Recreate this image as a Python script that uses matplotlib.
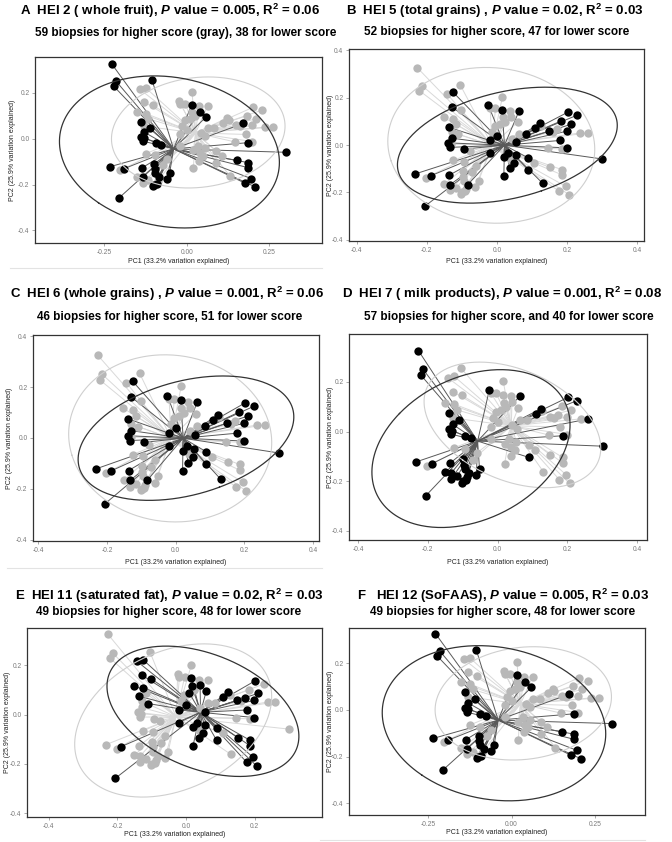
import numpy as np
import matplotlib
matplotlib.use('Agg')
import matplotlib.pyplot as plt
from matplotlib.lines import Line2D
from matplotlib import font_manager

# PCoA coordinates of the biopsies (same ordination in every panel)
pc1 = [-0.227, -0.214, -0.221, -0.105, 0.015, 0.041, 0.059, -0.138, -0.110, -0.129,
       -0.140, -0.133, -0.093, -0.077, -0.233, -0.189, -0.137, -0.133, -0.098, -0.097,
       -0.095, -0.083, -0.052, -0.061, -0.099, -0.091, -0.102, -0.206, 0.172, 0.301,
       0.151, 0.186, 0.186, 0.196, 0.177, 0.206, 0.186, -0.131,
       -0.143, -0.125, -0.129, -0.102, -0.152, -0.124, -0.116, -0.129, -0.124, -0.095,
       -0.202, -0.150, -0.133, -0.116, -0.088, -0.060, -0.072, 0.016, -0.024, -0.019,
       -0.004, 0.037, 0.063, 0.017, 0.024, 0.010, -0.005, -0.014, -0.019, 0.000,
       0.042, 0.063, 0.055, 0.020, 0.033, 0.054, 0.039, 0.050, 0.089, 0.107,
       0.089, 0.131, 0.037, 0.020, 0.084, 0.109, 0.123, 0.127, 0.149, 0.161,
       0.183, 0.202, 0.228, 0.211, 0.199, 0.238, 0.260, 0.179, 0.199, 0.147,
       -0.020]
pc2 = [0.326, 0.251, 0.229, 0.255, 0.148, 0.119, 0.096, 0.075, 0.045, 0.029,
       0.009, -0.010, -0.017, -0.026, -0.122, -0.130, -0.128, -0.167, -0.110, -0.133,
       -0.151, -0.167, -0.151, -0.177, -0.200, -0.196, -0.206, -0.259, 0.067, -0.059,
       -0.094, -0.104, -0.126, -0.174, -0.194, -0.209, -0.017, 0.004,
       0.217, 0.223, 0.161, 0.146, 0.117, 0.110, 0.087, 0.055, -0.065, -0.072,
       -0.138, -0.165, -0.191, -0.181, -0.184, -0.087, -0.114, 0.203, 0.167, 0.154,
       0.154, 0.142, 0.142, 0.117, 0.099, 0.087, 0.080, 0.055, 0.019, 0.038,
       0.026, 0.048, 0.012, -0.051, -0.032, -0.042, -0.064, -0.075, -0.054, -0.075,
       -0.104, -0.162, -0.097, -0.129, 0.048, 0.070, 0.091, 0.081, 0.058, 0.055,
       0.101, 0.138, 0.125, 0.087, 0.058, 0.051, 0.051, 0.019, -0.012, -0.014,
       -0.032]

# 1 = lower score (black), 0 = higher score (gray)
grp_a = "1" * 38 + "0" * 61
grp_b = ("0000100101" "1110111100" "0100000101" "00000000"
         "0110000000" "0000000010" "0010000011" "0011110110"
         "1111111010" "1111100110" "1")
grp_c = grp_b
grp_d = ("1110000111" "1111111111" "1111111101" "00000011"
         "0000000000" "0111100010" "0010000000" "0000000000"
         "1000011000" "0110001000" "0")
grp_e = ("0000111110" "0000010000" "0000000110" "11111100"
         "1111110000" "0000000000" "0001010011" "0011110110"
         "1011011010" "0101100110" "1")
grp_f = grp_a

titles = [
    r"A  HEI 2 ( whole fruit), $P$ value = 0.005, R$^2$ = 0.06",
    r"B  HEI 5 (total grains) , $P$ value = 0.02, R$^2$ = 0.03",
    r"C  HEI 6 (whole grains) , $P$ value = 0.001, R$^2$ = 0.06",
    r"D  HEI 7 ( milk products), $P$ value = 0.001, R$^2$ = 0.08",
    r"E  HEI 11 (saturated fat), $P$ value = 0.02, R$^2$ = 0.03",
    r"F   HEI 12 (SoFAAS), $P$ value = 0.005, R$^2$ = 0.03",
]
subtitles = [
    "59 biopsies for higher score (gray), 38 for lower score",
    "52 biopsies for higher score, 47 for lower score",
    "46 biopsies for higher score, 51 for lower score",
    "57 biopsies for higher score, and 40 for lower score",
    "49 biopsies for higher score, 48 for lower score",
    "49 biopsies for higher score, 48 for lower score",
]
groups = [grp_a, grp_b, grp_c, grp_d, grp_e, grp_f]

x_quarter = [-0.25, 0.0, 0.25]
x_fifth = [-0.4, -0.2, 0.0, 0.2, 0.4]
y_four = [-0.4, -0.2, 0.0, 0.2]
y_five = [-0.4, -0.2, 0.0, 0.2, 0.4]

plt.rcParams['mathtext.fontset'] = 'custom'
plt.rcParams['mathtext.rm'] = 'Liberation Sans:bold'
plt.rcParams['mathtext.it'] = 'Liberation Sans:italic:bold'
plt.rcParams['mathtext.bf'] = 'Liberation Sans:bold'

# axis text in the reference is a narrow sans; use one if present
installed = {f.name for f in font_manager.fontManager.ttflist}
if 'Liberation Sans Narrow' in installed:
    narrow, lab_fs, tick_fs = 'Liberation Sans Narrow', 6.0, 5.5
else:
    narrow, lab_fs, tick_fs = 'Liberation Sans', 5.0, 4.8

W, H = 672, 842
fig = plt.figure(figsize=(W / 100, H / 100), dpi=100)

# panel layout in pixels: axes box (x0, y0, x1, y1), title centre, limits, ticks
panels = [
    dict(box=(35, 57, 322, 243), tc=(170, 11), sc=(186, 33),
         xlim=(-0.46, 0.41), ylim=(-0.455, 0.357), xt=x_quarter, yt=y_four, xf='%.2f',
         yl=13, xl=262),
    dict(box=(349, 49, 644, 241), tc=(495, 11), sc=(497, 32),
         xlim=(-0.422, 0.42), ylim=(-0.405, 0.405), xt=x_fifth, yt=y_five, xf='%.1f',
         yl=330, xl=262),
    dict(box=(33, 335, 319, 541), tc=(167, 294), sc=(170, 317),
         xlim=(-0.415, 0.417), ylim=(-0.405, 0.405), xt=x_fifth, yt=y_five, xf='%.1f',
         yl=10, xl=562),
    dict(box=(349, 334, 647, 540), tc=(502, 294), sc=(509, 317),
         xlim=(-0.426, 0.428), ylim=(-0.437, 0.393), xt=x_fifth, yt=y_four, xf='%.1f',
         yl=330, xl=562),
    dict(box=(27, 628, 322, 817), tc=(169, 596), sc=(169, 612),
         xlim=(-0.463, 0.396), ylim=(-0.416, 0.352), xt=x_fifth[:4], yt=y_four, xf='%.1f',
         yl=8, xl=834),
    dict(box=(349, 628, 645, 815), tc=(503, 596), sc=(503, 612),
         xlim=(-0.485, 0.398), ylim=(-0.45, 0.35), xt=x_quarter, yt=y_four, xf='%.2f',
         yl=330, xl=833),
]

x = np.array(pc1)
y = np.array(pc2)
t = np.linspace(0, 2 * np.pi, 300)


def cov_trob(pts, nu=5, maxit=25, tol=0.01):
    # robust t-distribution scatter, as used by ggplot's stat_ellipse
    n, p = pts.shape
    loc = pts.mean(0)
    w = np.ones(n)
    for _ in range(maxit):
        w0 = w
        X = pts - loc
        cw = (w[:, None] * X).T @ X / w.sum()
        Q = np.einsum('ij,jk,ik->i', X, np.linalg.inv(cw), X)
        w = (nu + p) / (nu + Q)
        loc = (w[:, None] * pts).sum(0) / w.sum()
        if np.all(np.abs(w - w0) < tol):
            break
    X = pts - loc
    return loc, (w[:, None] * X).T @ X / n


def ellipse(px, py, level=0.95):
    pts = np.column_stack([px, py])
    loc, cov = cov_trob(pts)
    d = len(px) - 1
    radius = np.sqrt(2 * (d / 2) * ((1 - level) ** (-2 / d) - 1))
    vals, vecs = np.linalg.eigh(cov)
    circ = np.vstack([np.cos(t), np.sin(t)])
    e = vecs @ (np.sqrt(vals)[:, None] * circ) * radius
    return loc[0] + e[0], loc[1] + e[1]


for p, grp, title, sub in zip(panels, groups, titles, subtitles):
    x0, y0, x1, y1 = p['box']
    ax = fig.add_axes([x0 / W, 1 - y1 / H, (x1 - x0) / W, (y1 - y0) / H])
    g = np.array([c == '1' for c in grp])

    # spider lines from centroid, gray group first
    for mask, lc in [(~g, '#d9d9d9'), (g, '#595959')]:
        cx, cy = x[mask].mean(), y[mask].mean()
        for xi, yi in zip(x[mask], y[mask]):
            ax.plot([cx, xi], [cy, yi], color=lc, lw=0.7, zorder=1)
    ax.scatter(x[~g], y[~g], s=36, color='#b8b8b8', lw=0, zorder=2)
    ax.scatter(x[g], y[g], s=36, color='black', lw=0, zorder=3)
    ex, ey = ellipse(x[~g], y[~g])
    ax.plot(ex, ey, color='#cfcfcf', lw=0.8, zorder=4)
    ex, ey = ellipse(x[g], y[g])
    ax.plot(ex, ey, color='#333333', lw=0.9, zorder=4)

    ax.set_xlim(*p['xlim'])
    ax.set_ylim(*p['ylim'])
    ax.set_xticks(p['xt'])
    ax.set_xticklabels([p['xf'] % v for v in p['xt']])
    ax.set_yticks(p['yt'])
    ax.set_yticklabels(['%.1f' % v for v in p['yt']])
    ax.tick_params(length=2, width=0.5, colors='#888888', labelsize=tick_fs, pad=2)
    for lab in ax.get_xticklabels() + ax.get_yticklabels():
        lab.set_family(narrow)
        lab.set_color('#7a7a7a')
    for s in ax.spines.values():
        s.set_color('#333333')
        s.set_linewidth(0.9)

    fig.text(p['tc'][0] / W, 1 - p['tc'][1] / H, title, ha='center', va='center',
             fontsize=9.5, fontweight='bold', family='Liberation Sans')
    fig.text(p['sc'][0] / W, 1 - p['sc'][1] / H, sub, ha='center', va='center',
             fontsize=8.5, fontweight='bold', family='Liberation Sans')
    fig.text((x0 + x1) / 2 / W, 1 - p['xl'] / H, 'PC1 (33.2% variation explained)',
             ha='center', va='center', fontsize=lab_fs, family=narrow, color='#222222')
    fig.text(p['yl'] / W, 1 - (y0 + y1) / 2 / H, 'PC2 (25.9% variation explained)',
             ha='center', va='center', rotation=90, fontsize=lab_fs, family=narrow,
             color='#222222')

# thin separator lines under some panels
for xa, xb, yy in [(10, 322, 268), (7, 322, 568), (320, 645, 840)]:
    fig.add_artist(Line2D([xa / W, xb / W], [1 - yy / H, 1 - yy / H],
                          color='#e3e3e3', lw=0.8))

fig.savefig('out.png', dpi=100)
